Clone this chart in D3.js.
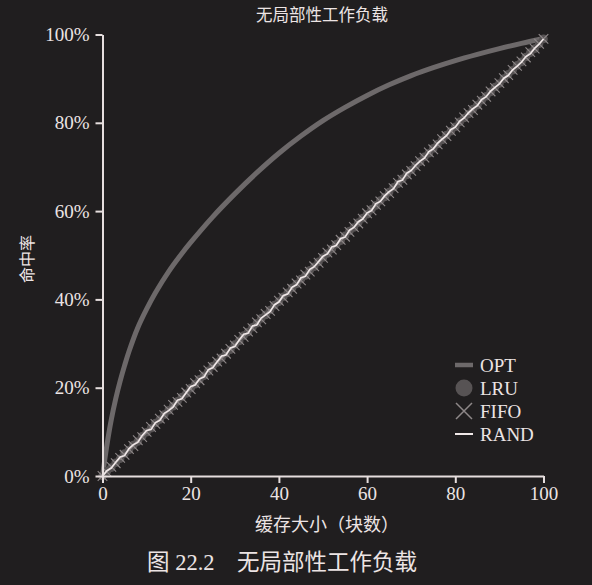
<!DOCTYPE html>
<html><head><meta charset="utf-8">
<script src="https://cdn.jsdelivr.net/npm/d3@7"></script>
<style>
html,body{margin:0;padding:0;background:#201e1f;}
svg{display:block;}
text{font-family:"Liberation Serif","Noto Sans CJK SC",serif;fill:#ece4e4;}
</style></head>
<body><svg id="c" width="592" height="585"></svg>
<script>
const title = "无局部性工作负载";
const xLabel = "缓存大小（块数）";
const yLabel = "命中率";
const caption = "图 22.2\u3000无局部性工作负载";
const xTicks = [0,20,40,60,80,100];
const yTicks = [0,20,40,60,80,100];
const yTickLabels = ["0%","20%","40%","60%","80%","100%"];
const seriesNames = ["OPT","LRU","FIFO","RAND"];

const optSizes = [0,1,2,3,4,5,6,8,10,12,15,18,20,25,30,35,40,45,50,55,60,65,70,75,80,85,90,95,100];
const optHit   = [0,7,12.8,17.5,21.5,25,28.2,33.6,37.8,41.5,46.3,50.4,52.9,58.7,63.9,68.7,73.1,77.0,80.5,83.5,86.2,88.6,90.7,92.5,94.1,95.5,96.8,98.0,99.1];

const cacheSizes = d3.range(0,101);
const lruHit = [0,1.1,1.9,3.0,3.9,5.1,5.9,7.0,7.8,9.0,
 9.9,10.8,12.0,12.8,13.9,14.9,15.8,16.9,17.9,18.7,
 19.9,20.8,21.9,22.7,23.8,24.9,25.7,26.8,27.8,28.6,
 29.8,30.6,31.8,32.6,33.7,34.6,35.7,36.5,37.6,38.7,
 39.5,40.6,41.5,42.6,43.5,44.6,45.4,46.6,47.4,48.5,
 49.5,50.4,51.4,52.5,53.3,54.4,55.5,56.3,57.4,58.4,
 59.3,60.4,61.3,62.4,63.2,64.3,65.4,66.2,67.3,68.2,
 69.3,70.3,71.2,72.3,73.1,74.2,75.2,76.1,77.2,78.1,
 79.1,80.2,81.1,82.0,83.1,84.0,85.1,86.0,87.0,88.1,
 88.9,90.0,91.0,91.9,93.0,93.8,94.9,95.9,96.8,97.9,
 99.0];
const fifoHit = [0,0.9,2.1,2.9,4.1,4.8,6.1,6.8,8.1,8.8,
 10.0,11.1,11.8,13.0,13.8,15.0,16.1,16.8,17.7,18.9,
 19.7,21.0,21.7,22.9,23.9,24.7,25.9,26.6,27.7,28.8,
 29.6,30.8,31.5,32.7,33.5,34.8,35.5,36.7,37.4,38.5,
 39.7,40.4,41.6,42.4,43.6,44.3,45.6,46.3,47.5,48.3,
 49.4,50.6,51.3,52.3,53.5,54.2,55.3,56.4,57.2,58.3,
 59.5,60.2,61.4,62.2,63.4,64.1,65.2,66.4,67.1,68.3,
 69.1,70.2,71.3,72.1,73.3,74.0,75.1,76.3,77.0,78.2,
 79.0,80.1,81.2,82.2,82.9,84.1,85.0,85.9,87.1,87.9,
 89.0,90.1,90.8,92.0,92.9,93.9,94.8,96.0,96.8,97.9,
 99.0];
const randHit = [0,1.2,1.8,3.1,4.3,4.6,6.2,7.1,7.6,9.2,
 10.3,10.5,12.1,12.6,14.2,14.8,15.6,17.2,17.5,18.9,
 20.3,20.6,22.0,22.4,24.1,24.5,25.9,27.2,27.4,29.0,
 29.3,30.8,32.1,32.3,34.0,34.2,35.8,36.5,37.2,38.8,
 39.4,40.9,41.2,42.8,43.3,44.9,45.2,46.8,47.4,48.6,
 49.8,50.3,51.9,52.2,53.8,54.1,55.7,56.3,57.6,58.2,
 59.6,60.1,61.7,62.2,63.5,64.4,65.1,66.7,67.0,68.6,
 69.2,70.4,71.3,72.0,73.5,74.1,75.4,76.3,77.1,78.5,
 79.0,80.4,81.1,82.3,83.2,83.9,85.3,85.9,87.2,88.0,
 88.8,90.1,90.7,92.0,92.8,93.7,95.0,95.6,96.9,97.8,
 99.0];

const C = {axis:"#e6dede", opt:"#6d696a", lru:"#575354", fifo:"#8e8889", rand:"#f0e8e8"};
const svg = d3.select("#c");
const x = d3.scaleLinear().domain([0,100]).range([102.5,543.5]);
const y = d3.scaleLinear().domain([0,100]).range([476,34.5]);

// OPT
svg.append("path")
  .datum(optSizes.map((s,i)=>[s,optHit[i]]))
  .attr("fill","none").attr("stroke",C.opt).attr("stroke-width",5)
  .attr("d", d3.line().x(d=>x(d[0])).y(d=>y(d[1])).curve(d3.curveCatmullRom.alpha(0.5)));

// LRU circles
svg.append("g").selectAll("circle").data(cacheSizes).join("circle")
  .attr("cx", d=>x(d)).attr("cy",(d,i)=>y(lruHit[i])).attr("r",4.3)
  .attr("fill",C.lru);

// FIFO crosses
const cs = 4.8;
svg.append("g").selectAll("path").data(cacheSizes).join("path")
  .attr("d",(d,i)=>{const cx=x(d), cy=y(fifoHit[i]);
     return `M${cx-cs},${cy-cs}L${cx+cs},${cy+cs}M${cx-cs},${cy+cs}L${cx+cs},${cy-cs}`;})
  .attr("stroke",C.fifo).attr("stroke-width",1.1).attr("fill","none");

// RAND line
svg.append("path")
  .datum(cacheSizes.map((s,i)=>[s,randHit[i]]))
  .attr("fill","none").attr("stroke",C.rand).attr("stroke-width",1.6)
  .attr("d", d3.line().x(d=>x(d[0])).y(d=>y(d[1])));

// axes
const ya = svg.append("g").attr("transform",`translate(${x(0)},0)`)
  .call(d3.axisLeft(y).tickValues(yTicks).tickFormat((d,i)=>yTickLabels[i]).tickSize(7).tickSizeOuter(0).tickPadding(6));
const xa = svg.append("g").attr("transform",`translate(0,${y(0)})`)
  .call(d3.axisBottom(x).tickValues(xTicks).tickFormat(d=>d).tickSize(7).tickSizeOuter(0).tickPadding(4));
[ya,xa].forEach(a=>{
  a.select(".domain").attr("stroke",C.axis).attr("stroke-width",2);
  a.selectAll(".tick line").attr("stroke",C.axis).attr("stroke-width",2);
  a.selectAll(".tick text").attr("fill","#ece4e4").style("font-size","19px")
   .style("font-family","'Liberation Serif',serif");
});

// titles
svg.append("text").attr("x",322).attr("y",21).attr("text-anchor","middle")
  .style("font-size","16.5px").text(title);
svg.append("text").attr("x",327).attr("y",531).attr("text-anchor","middle")
  .style("font-size","18px").text(xLabel);
svg.append("text").attr("transform","translate(33,259) rotate(-90)").attr("text-anchor","middle")
  .style("font-size","16px").text(yLabel);
svg.append("text").attr("x",147).attr("y",570).attr("text-anchor","start")
  .style("font-size","22.5px").text(caption);

// legend
const lg = svg.append("g");
const ly = [365,388,411,434];
lg.append("line").attr("x1",455).attr("x2",473).attr("y1",ly[0]).attr("y2",ly[0])
  .attr("stroke",C.opt).attr("stroke-width",4.5);
lg.append("circle").attr("cx",464).attr("cy",ly[1]).attr("r",8.5).attr("fill",C.lru);
lg.append("path").attr("d",`M456,${ly[2]-8}L472,${ly[2]+8}M456,${ly[2]+8}L472,${ly[2]-8}`)
  .attr("stroke",C.fifo).attr("stroke-width",1.5);
lg.append("line").attr("x1",455).attr("x2",473).attr("y1",ly[3]).attr("y2",ly[3])
  .attr("stroke",C.rand).attr("stroke-width",2);
lg.selectAll("text").data(seriesNames).join("text")
  .attr("x",480).attr("y",(d,i)=>ly[i]+7).style("font-size","19px").text(d=>d);
</script></body></html>
